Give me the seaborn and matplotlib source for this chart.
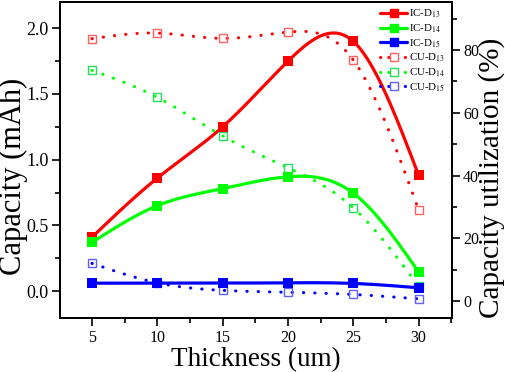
import numpy as np
import pandas as pd
import matplotlib
matplotlib.use("Agg")
import matplotlib.pyplot as plt
import seaborn as sns
from matplotlib.lines import Line2D
from matplotlib.ticker import MultipleLocator

# ---- data ----
thickness = [5, 10, 15, 20, 25, 30]
ic_d13 = [0.41, 0.86, 1.25, 1.75, 1.90, 0.88]
ic_d14 = [0.37, 0.65, 0.78, 0.87, 0.745, 0.145]
ic_d15 = [0.06, 0.06, 0.06, 0.063, 0.058, 0.025]
cu_d13 = [83.6, 85.4, 83.7, 85.7, 76.8, 29.0]
cu_d14 = [73.5, 64.9, 52.6, 42.5, 29.7, 4.7]
cu_d15 = [12.0, 5.8, 3.4, 2.8, 2.1, 0.7]
labels_ic = ["IC-D$_{13}$", "IC-D$_{14}$", "IC-D$_{15}$"]
labels_cu = ["CU-D$_{13}$", "CU-D$_{14}$", "CU-D$_{15}$"]
colors = ["#ff0000", "#00ff00", "#0000ff"]
cu_edge = ["#ff6060", "#20e060", "#6060ff"]


def spline_curve(x, y, n=300):
    """Natural cubic spline used only to draw the smooth connecting line."""
    x = np.asarray(x, float); y = np.asarray(y, float)
    k = len(x); h = np.diff(x)
    A = np.zeros((k, k)); b = np.zeros(k)
    A[0, 0] = A[-1, -1] = 1
    for i in range(1, k - 1):
        A[i, i - 1] = h[i - 1]; A[i, i] = 2 * (h[i - 1] + h[i]); A[i, i + 1] = h[i]
        b[i] = 3 * ((y[i + 1] - y[i]) / h[i] - (y[i] - y[i - 1]) / h[i - 1])
    c = np.linalg.solve(A, b)
    xs = np.linspace(x[0], x[-1], n)
    idx = np.clip(np.searchsorted(x, xs) - 1, 0, k - 2)
    dx = xs - x[idx]
    bb = (y[idx + 1] - y[idx]) / h[idx] - h[idx] * (2 * c[idx] + c[idx + 1]) / 3
    dd = (c[idx + 1] - c[idx]) / (3 * h[idx])
    ys = y[idx] + bb * dx + c[idx] * dx ** 2 + dd * dx ** 3
    return pd.DataFrame({"x": xs, "y": ys})


sns.set_theme(style="ticks")
plt.rcParams["font.family"] = ["Liberation Serif", "DejaVu Serif"]
plt.rcParams["mathtext.fontset"] = "stix"
plt.rcParams["text.color"] = "black"
plt.rcParams["axes.labelcolor"] = "black"
plt.rcParams["xtick.color"] = "black"
plt.rcParams["ytick.color"] = "black"

W, H = 505, 372
fig = plt.figure(figsize=(W / 100, H / 100), dpi=100)
ax = fig.add_axes([60 / W, 1 - 318 / H, 392 / W, 316 / H])
ax2 = ax.twinx()

dot_style = (0, (0.1, 3.6))
for ys, lab, col, ecol in zip([cu_d13, cu_d14, cu_d15], labels_cu, colors, cu_edge):
    df = spline_curve(thickness, ys)
    sns.lineplot(data=df, x="x", y="y", ax=ax2, color=col, lw=2.2, legend=False)
    ln = ax2.lines[-1]
    ln.set_linestyle(dot_style)
    ln.set_dash_capstyle("round")
    ax2.plot(thickness, ys, ls="none", marker="s", ms=6, mfc="none",
             mec=ecol, mew=1.0, zorder=5)

for ys, lab, col in zip([ic_d13, ic_d14, ic_d15], labels_ic, colors):
    df = spline_curve(thickness, ys)
    sns.lineplot(data=df, x="x", y="y", ax=ax, color=col, lw=2.3, legend=False)
    sns.scatterplot(x=thickness, y=ys, ax=ax, color=col, marker="s", s=50,
                    linewidth=0, zorder=5, legend=False)

ax.set_zorder(ax2.get_zorder() + 1)
ax.patch.set_visible(False)

ax.set_xlim(2.55, 32.55)
ax.set_ylim(-0.205, 2.2)
ax2.set_ylim(-5.4, 95.3)
ax.set_xticks([5, 10, 15, 20, 25, 30])
ax.xaxis.set_minor_locator(MultipleLocator(2.5))
ax.set_yticks([0.0, 0.5, 1.0, 1.5, 2.0])
ax.set_yticklabels(["0.0", "0.5", "1.0", "1.5", "2.0"])
ax.yaxis.set_minor_locator(MultipleLocator(0.25))
ax2.set_yticks([0, 20, 40, 60, 80])
ax2.yaxis.set_minor_locator(MultipleLocator(10))

for a in (ax, ax2):
    for s in a.spines.values():
        s.set_linewidth(1.4)
        s.set_color("black")
    a.tick_params(which="major", direction="out", length=6, width=1.2, color="black")
    a.tick_params(which="minor", direction="out", length=3.5, width=1.2, color="black")
ax.tick_params(axis="y", labelsize=13, pad=2)
ax.tick_params(axis="x", labelsize=11.5, pad=2.5)
ax2.tick_params(axis="y", labelsize=11.5, pad=2)

ax.set_xlabel("Thickness (um)", fontsize=19.5, va="top")
ax.set_ylabel("Capacity (mAh)", fontsize=22, va="center")
ax2.set_ylabel("Capacity utilization (%)", fontsize=21, va="center")


def px_to_axes(px, py):
    return (px - 60) / 392, (318 - py) / 316


ax.xaxis.set_label_coords(*px_to_axes(256, 347))
ax.yaxis.set_label_coords(*px_to_axes(13.5, 176))
ax2.yaxis.set_label_coords(*px_to_axes(492, 178))

handles = []
for lab, col in zip(labels_ic, colors):
    handles.append(Line2D([], [], color=col, lw=2.3, marker="s", ms=6, label=lab))
for lab, col, ecol in zip(labels_cu, colors, cu_edge):
    handles.append(Line2D([], [], color=col, lw=2.2, linestyle=(0, (0.1, 2.6)),
                          dash_capstyle="round", marker="s", ms=6, mfc="white",
                          mec=ecol, mew=1.0, label=lab))
leg = ax.legend(handles=handles, loc="upper right", frameon=False, fontsize=7.8,
                handlelength=2.5, handletextpad=0.2, labelspacing=0.2,
                borderaxespad=0.0, bbox_to_anchor=(0.995, 0.995))

fig.savefig("out.png", dpi=100)
